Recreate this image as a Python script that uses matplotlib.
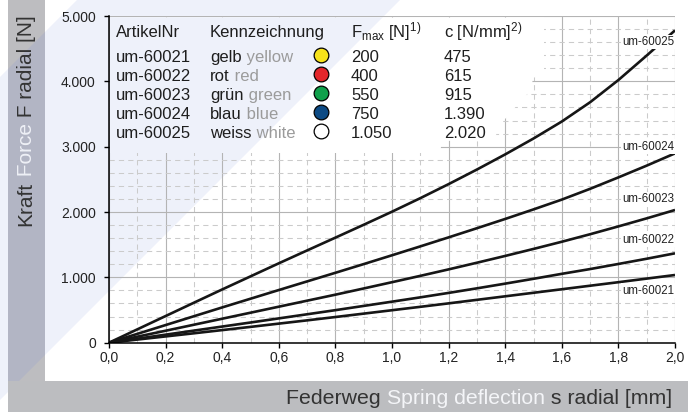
import matplotlib
matplotlib.use("Agg")
import matplotlib.pyplot as plt
from matplotlib.patches import Polygon, Rectangle
from matplotlib.ticker import FixedLocator, MultipleLocator

plt.rcParams['font.family'] = ['Liberation Sans', 'DejaVu Sans']
plt.rcParams['mathtext.default'] = 'regular'

# ---------------- data ----------------
deflection = [0.0, 0.1, 0.2, 0.3, 0.4, 0.5, 0.6, 0.7, 0.8, 0.9, 1.0,
              1.1, 1.2, 1.3, 1.4, 1.5, 1.6, 1.7, 1.8, 1.9, 2.0]
force_60021 = [0, 48, 96, 144, 193, 242, 292, 342, 393, 445, 497,
               549, 602, 656, 710, 764, 818, 872, 926, 981, 1036]
force_60022 = [0, 61, 123, 185, 247, 309, 372, 435, 498, 563, 628,
               694, 762, 832, 904, 978, 1054, 1127, 1205, 1285, 1368]
force_60023 = [0, 92, 183, 275, 367, 459, 551, 643, 735, 830, 926,
               1023, 1122, 1224, 1328, 1435, 1545, 1660, 1780, 1903, 2031]
force_60024 = [0, 135, 270, 405, 540, 673, 806, 938, 1070, 1203, 1338,
               1474, 1612, 1752, 1894, 2040, 2190, 2355, 2530, 2710, 2898]
force_60025 = [0, 204, 408, 612, 815, 1015, 1215, 1412, 1608, 1805, 2005,
               2212, 2427, 2650, 2882, 3125, 3385, 3680, 4020, 4395, 4780]
series = [force_60021, force_60022, force_60023, force_60024, force_60025]

articles = ["um-60021", "um-60022", "um-60023", "um-60024", "um-60025"]
names_de = ["gelb", "rot", "grün", "blau", "weiss"]
names_en = ["yellow", "red", "green", "blue", "white"]
dot_colors = ["#f6e21a", "#e3262b", "#10a04b", "#0c4a84", "#ffffff"]
fmax_values = ["200", "400", "550", "750", "1.050"]
rate_values = ["475", "615", "915", "1.390", "2.020"]

xtick_values = [0.0, 0.2, 0.4, 0.6, 0.8, 1.0, 1.2, 1.4, 1.6, 1.8, 2.0]
xtick_labels = ["0,0", "0,2", "0,4", "0,6", "0,8", "1,0", "1,2", "1,4", "1,6", "1,8", "2,0"]
ytick_values = [0, 1000, 2000, 3000, 4000, 5000]
ytick_labels = ["0", "1.000", "2.000", "3.000", "4.000", "5.000"]

# ---------------- layout (pixel units) ----------------
W, H = 699, 412
X0, X1 = 109, 675
Y0, Y1 = 342.7, 16
label_y = [796, 1572, 2199, 3000, 4602]
label_x = 1.813

fig = plt.figure(figsize=(W / 100, H / 100), dpi=100)
fig.patch.set_facecolor('white')

# background decoration
bg = fig.add_axes([0, 0, 1, 1], zorder=-10)
bg.set_xlim(0, W); bg.set_ylim(H, 0); bg.axis('off')
BAND = '#eef1fa'
bg.add_patch(Polygon([(77, 0), (400, 0), (0, 400), (0, 77)], closed=True, fc=BAND, ec='none', zorder=1))
bg.add_patch(Rectangle((8, 0), 37, 381, fc='#bdbdc0', ec='none', zorder=2))
bg.add_patch(Polygon([(8, 69), (45, 32), (45, 355), (8, 392)], closed=True, fc='#b2b5c4', ec='none', zorder=3))
bg.add_patch(Rectangle((8, 381), 680, 31, fc='#bcbdc0', ec='none', zorder=4))

# y label (multicolour)
DARK = '#333333'
t1 = bg.text(26, 226, "Kraft", rotation=90, ha='center', va='bottom', fontsize=15, color=DARK, zorder=10)
t2 = bg.annotate(" Force", xy=(0.5, 1), xycoords=t1, rotation=90, ha='center', va='bottom',
                 fontsize=15, color='#eef0f6', zorder=10)
bg.annotate(" F radial [N]", xy=(0.5, 1), xycoords=t2, rotation=90, ha='center', va='bottom',
            fontsize=15, color=DARK, zorder=10)

# x label (multicolour)
u3 = bg.text(672, 404, " s radial [mm]", ha='right', va='baseline', fontsize=15.3, color=DARK, zorder=10)
u2 = bg.annotate("Spring deflection", xy=(0, 0), xycoords=u3, ha='right', va='bottom',
                 fontsize=15.3, color='#f4f5f8', zorder=10)
bg.annotate("Federweg ", xy=(0, 0), xycoords=u2, ha='right', va='bottom',
            fontsize=15.3, color=DARK, zorder=10)

# ---------------- main axes ----------------
ax = fig.add_axes([X0 / W, 1 - Y0 / H, (X1 - X0) / W, (Y0 - Y1) / H])
ax.set_facecolor('none')
for name, f in zip(articles, series):
    ax.plot(deflection, f, color='#161616', lw=1.9, zorder=2, solid_capstyle='butt')

ax.set_xlim(0, 2.0)
ax.set_ylim(0, 5000)
ax.xaxis.set_major_locator(FixedLocator(xtick_values))
ax.set_xticklabels(xtick_labels)
ax.yaxis.set_major_locator(FixedLocator(ytick_values))
ax.set_yticklabels(ytick_labels)
ax.xaxis.set_minor_locator(MultipleLocator(0.1))
ax.yaxis.set_minor_locator(MultipleLocator(200))
ax.set_axisbelow(True)
ax.grid(which='major', color='#b4b4b4', lw=0.8, ls='-')
ax.grid(which='minor', color='#cbcbcb', lw=0.75, ls=(0, (5, 4)))
ax.tick_params(which='major', direction='out', length=3.5, width=1, color='black',
               labelsize=10, labelcolor='#222222')
ax.tick_params(axis='y', pad=6)
ax.tick_params(axis='x', pad=2.5)
ax.tick_params(which='minor', length=0)
for s in ['top', 'right']:
    ax.spines[s].set_visible(False)
for s in ['left', 'bottom']:
    ax.spines[s].set_color('black')
    ax.spines[s].set_linewidth(1.1)

for name, ly in zip(articles, label_y):
    ax.text(label_x, ly, name, fontsize=8.3, color='#222222', ha='left', va='center', zorder=4,
            bbox=dict(fc='white', ec='none', pad=1.0))

# ---------------- overlay (table) ----------------
ov = fig.add_axes([0, 0, 1, 1], zorder=10)
ov.set_facecolor('none')
ov.set_xlim(0, W); ov.set_ylim(H, 0); ov.axis('off')
mask_pts = [(110, 17.5), (544, 17.5), (544, 74), (533, 78), (531, 90), (518, 104), (508, 116),
            (498, 126), (495, 140), (442, 141), (440, 153), (110, 153)]
mask = Polygon(mask_pts, closed=True, fc='white', ec='none', zorder=1)
ov.add_patch(mask)
band_in = Polygon([(77, 0), (400, 0), (0, 400), (0, 77)], closed=True, fc=BAND, ec='none', zorder=1.1)
ov.add_patch(band_in)
band_in.set_clip_path(mask)

FS = 12
col_x = [116, 210, 351, 444]
head_y = 37.3
row_y = [61.7, 80.8, 99.9, 118.8, 137.6]
TXT = '#1e1e1e'
GREY = '#9b9b9b'
ov.text(col_x[0], head_y, "ArtikelNr", fontsize=FS, color=TXT, va='baseline', zorder=5)
ov.text(col_x[1], head_y, "Kennzeichnung", fontsize=FS, color=TXT, va='baseline', zorder=5)
ov.text(col_x[2], head_y, r"F$_{max}$ [N]$^{1)}$", fontsize=FS, color=TXT, va='baseline', zorder=5)
ov.text(col_x[3], head_y, r"c [N/mm]$^{2)}$", fontsize=FS, color=TXT, va='baseline', zorder=5)
for i in range(len(articles)):
    y = row_y[i]
    ov.text(col_x[0], y, articles[i], fontsize=FS, color=TXT, va='baseline', zorder=5)
    tde = ov.text(col_x[1], y, names_de[i], fontsize=FS, color=TXT, va='baseline', zorder=5)
    ov.annotate(" " + names_en[i], xy=(1, 0), xycoords=tde, ha='left', va='bottom',
                fontsize=FS, color=GREY, zorder=5)
    ov.scatter([320.7], [y - 6.5], s=112, c=dot_colors[i], edgecolors='black', linewidths=0.9, zorder=6)
    ov.text(col_x[2], y, fmax_values[i], fontsize=FS, color=TXT, va='baseline', zorder=5)
    ov.text(col_x[3], y, rate_values[i], fontsize=FS, color=TXT, va='baseline', zorder=5)

fig.savefig("out.png", dpi=100)
